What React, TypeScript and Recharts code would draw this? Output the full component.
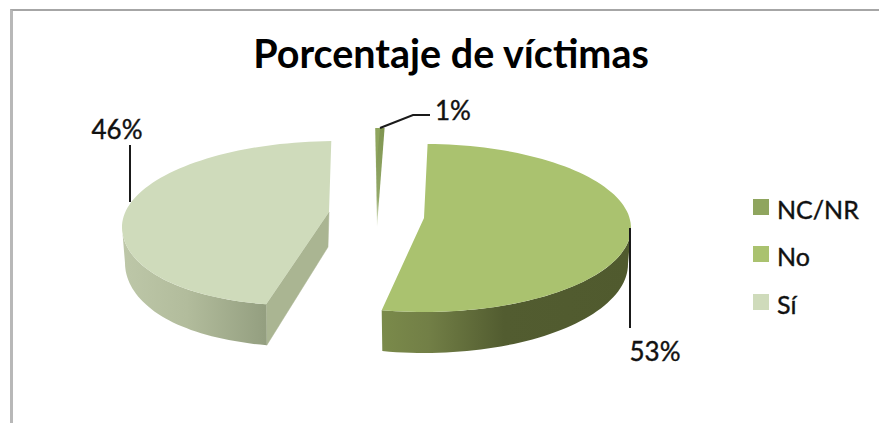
import { PieChart, Pie, Legend } from "recharts";

const categories = ["NC/NR", "No", "Sí"];
const shares = [0.7, 53, 46.3];
const topColors = ["#8fa55e", "#aac26f", "#cfdbbb"];

const FONT = "Lato, sans-serif";
const WIDTH = 879;
const HEIGHT = 423;
const DEG = Math.PI / 180;

// hand-tuned look of each exploded slice, relative to the pie centre
const SLICE_LOOK: Record<string, any> = {
  "NC/NR": { dx: 3, dy: -3, apexX: -1, apexY: -15, dr: 0, ryBack: 84, ryFront: 84, lean: 0, depth: 27 },
  No: { dx: 46, dy: 13, apexX: 46, apexY: 3, dr: 0, ryBack: 84, ryFront: 84, lean: 0, depth: 36 },
  "Sí": { dx: -41, dy: 12, apexX: -49, apexY: -3, dr: 8, ryBack: 86, ryFront: 79, lean: 28, depth: 36 },
};

// leader line and label spot for each slice, relative to the pie centre
const LEADERS: Record<string, any> = {
  "NC/NR": { points: [[2, -87], [35, -100], [52, -100]], text: [75, -105] },
  No: { points: [[252, 13], [252, 113]], text: [277, 136] },
  "Sí": { points: [[-248, -13], [-248, -70]], text: [-261, -86] },
};

const chartData = categories.map((name, i) => ({
  name,
  value: shares[i],
  fill: topColors[i],
}));

// point on the squashed rim, angle a is clockwise from the top of the pie
function rim(look: any, cx: number, cy: number, rx: number, a: number, lower = 0) {
  const s = Math.sin(a * DEG);
  const c = Math.cos(a * DEG);
  const ry = c < 0 ? look.ryFront : look.ryBack;
  const drop = c < 0 ? look.lean * c * c : 0;
  if (lower) {
    return [cx + look.dx + (rx - 3) * s - drop, cy + look.dy + lower + (ry + 5) * -c];
  }
  return [cx + look.dx + rx * s - drop, cy + look.dy + ry * -c];
}

function arcPoints(look: any, cx: number, cy: number, rx: number, from: number, to: number, lower = 0) {
  const pts = [];
  const steps = Math.max(2, Math.ceil(Math.abs(to - from) / 2));
  for (let i = 0; i <= steps; i++) {
    pts.push(rim(look, cx, cy, rx, from + ((to - from) * i) / steps, lower));
  }
  return pts;
}

const toPath = (pts: number[][]) =>
  "M" + pts.map((p) => `${p[0].toFixed(1)},${p[1].toFixed(1)}`).join("L") + "Z";

// draws one slice as a 3D wedge
function Slice3D(props: any) {
  const { cx, cy, outerRadius, startAngle, endAngle, fill, name } = props;
  const look = SLICE_LOOK[name];
  const rx = outerRadius + look.dr;
  const a1 = 90 - startAngle;
  const a2 = 90 - endAngle;
  const apex = [cx + look.apexX, cy + look.apexY];
  const top = toPath([apex, ...arcPoints(look, cx, cy, rx, a1, a2)]);

  if (name === "NC/NR") {
    const tip = [apex[0], apex[1] + look.depth];
    return (
      <g>
        <defs>
          <linearGradient id="ncSide" gradientUnits="userSpaceOnUse" x1="0" y1={cy - 87} x2="0" y2={tip[1]}>
            <stop offset="0%" stopColor="#7f9550" />
            <stop offset="70%" stopColor="#93a868" />
            <stop offset="100%" stopColor="#e4ead6" />
          </linearGradient>
        </defs>
        <path d={toPath([tip, ...arcPoints(look, cx, cy, rx, a1, a2)])} fill="url(#ncSide)" />
        <path d={toPath([[apex[0] - 1, apex[1] - 30], ...arcPoints(look, cx, cy, rx, a1, (a1 + a2) / 2)])} fill={fill} />
      </g>
    );
  }

  const isNo = name === "No";
  const wallFrom = isNo ? 90 : a1;
  const wallTo = isNo ? a2 : 270;
  const wallTop = arcPoints(look, cx, cy, rx, wallFrom, wallTo);
  const wallBottom = arcPoints(look, cx, cy, rx, wallTo, wallFrom, look.depth);
  const gradId = isNo ? "wallNo" : "wallSi";
  const front = rim(look, cx, cy, rx, a1);
  const frontLow = rim(look, cx, cy, rx, a1, look.depth);

  return (
    <g>
      <defs>
        <linearGradient id="wallNo" gradientUnits="userSpaceOnUse" x1={cx} y1="0" x2={cx + 252} y2="0">
          <stop offset="0%" stopColor="#7b8b4b" />
          <stop offset="20%" stopColor="#727f46" />
          <stop offset="50%" stopColor="#525c30" />
          <stop offset="100%" stopColor="#505a2e" />
        </linearGradient>
        <linearGradient id="wallSi" gradientUnits="userSpaceOnUse" x1={cx - 255} y1="0" x2={cx - 113} y2="0">
          <stop offset="0%" stopColor="#bdc7a8" />
          <stop offset="45%" stopColor="#b2bc9c" />
          <stop offset="100%" stopColor="#949f80" />
        </linearGradient>
      </defs>
      {!isNo && (
        <path
          d={toPath([apex, front, frontLow, [apex[0] - 1, apex[1] + 35]])}
          fill="#aab592"
          stroke="#aab592"
          strokeWidth={0.5}
        />
      )}
      <path d={toPath([...wallTop, ...wallBottom])} fill={`url(#${gradId})`} />
      <path d={top} fill={fill} />
    </g>
  );
}

// leader line plus the percent text
function SliceLabel(props: any) {
  const { cx, cy, name, value } = props;
  const leader = LEADERS[name];
  const line = leader.points.map((p: number[]) => `${cx + p[0]},${cy + p[1]}`).join(" ");
  return (
    <g>
      <polyline points={line} fill="none" stroke="#1a1a1a" strokeWidth={2} />
      <text
        x={cx + leader.text[0]}
        y={cy + leader.text[1]}
        textAnchor="middle"
        dominantBaseline="central"
        fontFamily={FONT}
        fontSize={26}
        fill="#111"
        stroke="#111"
        strokeWidth={0.4}
      >
        {`${Math.round(value)}%`}
      </text>
    </g>
  );
}

function LegendList({ payload }: any) {
  return (
    <div style={{ fontFamily: FONT, fontSize: 25, color: "#111", WebkitTextStroke: "0.4px #111" }}>
      {(payload || []).map((entry: any) => (
        <div key={entry.value} style={{ display: "flex", alignItems: "center", height: 47.5 }}>
          <span style={{ width: 16, height: 16, background: entry.color, marginRight: 8 }} />
          <span style={{ position: "relative", top: 2 }}>{entry.value}</span>
        </div>
      ))}
    </div>
  );
}

export default function App() {
  return (
    <div style={{ position: "absolute", left: 0, top: 0, width: WIDTH, height: HEIGHT, overflow: "hidden", background: "#fff" }}>
      <div style={{ position: "absolute", left: 10, top: 9, right: 0, bottom: 0, borderTop: "2px solid #a6a6a6", borderLeft: "3px solid #b8b8b8" }} />
      <div
        style={{
          position: "absolute",
          left: 0,
          width: 902,
          top: 29,
          textAlign: "center",
          fontFamily: FONT,
          fontWeight: 700,
          fontSize: 39.5,
          color: "#000",
        }}
      >
        Porcentaje de víctimas
      </div>
      <PieChart width={WIDTH} height={HEIGHT} margin={{ top: 0, right: 0, bottom: 0, left: 0 }}>
        <Pie
          data={chartData}
          dataKey="value"
          nameKey="name"
          cx={378}
          cy={215}
          outerRadius={207}
          startAngle={91.52}
          endAngle={-268.48}
          stroke="none"
          shape={Slice3D}
          label={SliceLabel}
          labelLine={false}
          isAnimationActive={false}
        />
        <Legend
          content={LegendList}
          layout="vertical"
          wrapperStyle={{ position: "absolute", left: 753, top: 183, width: 125 }}
        />
      </PieChart>
    </div>
  );
}
